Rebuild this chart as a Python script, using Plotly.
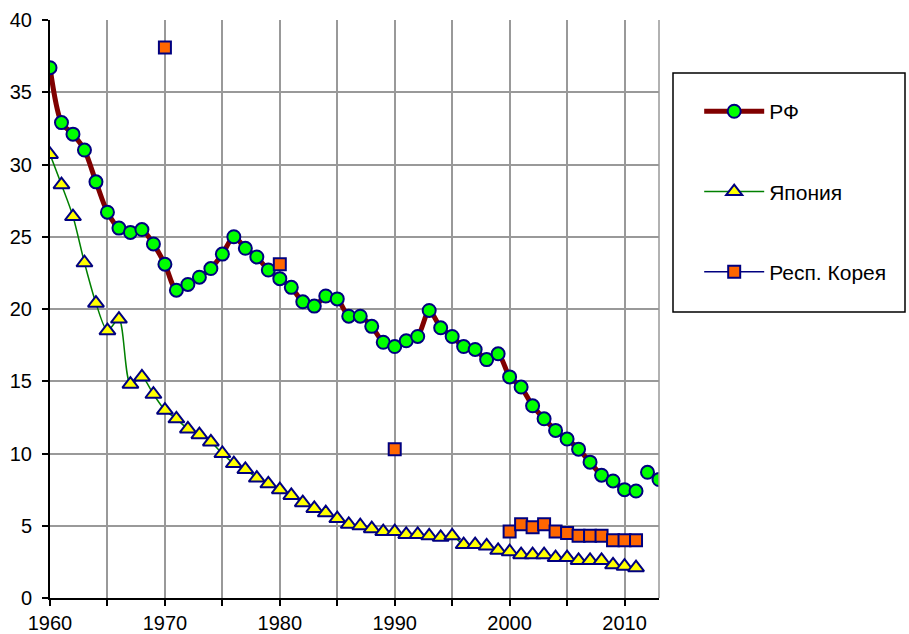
import plotly.graph_objects as go

# Russian Federation, 1960-2011 (continuous series) and 2012-2013
rf_years = list(range(1960, 2012))
rf_values = [36.7, 32.9, 32.1, 31.0, 28.8, 26.7, 25.6, 25.3, 25.5, 24.5,
             23.1, 21.3, 21.7, 22.2, 22.8, 23.8, 25.0, 24.2, 23.6, 22.7,
             22.1, 21.5, 20.5, 20.2, 20.9, 20.7, 19.5, 19.5, 18.8, 17.7,
             17.4, 17.8, 18.1, 19.9, 18.7, 18.1, 17.4, 17.2, 16.5, 16.9,
             15.3, 14.6, 13.3, 12.4, 11.6, 11.0, 10.3, 9.4, 8.5, 8.1,
             7.5, 7.4]
rf_late_years = [2012, 2013]
rf_late_values = [8.7, 8.2]

# Japan, 1960-2011
jp_years = list(range(1960, 2012))
jp_values = [30.7, 28.6, 26.4, 23.2, 20.4, 18.5, 19.3, 14.8, 15.3, 14.1,
             13.0, 12.4, 11.7, 11.3, 10.8, 10.0, 9.3, 8.9, 8.3, 7.9,
             7.5, 7.1, 6.6, 6.2, 5.9, 5.5, 5.1, 5.0, 4.8, 4.6,
             4.6, 4.4, 4.4, 4.3, 4.2, 4.3, 3.7, 3.7, 3.6, 3.3,
             3.2, 3.0, 3.0, 3.0, 2.8, 2.8, 2.6, 2.6, 2.6, 2.3,
             2.2, 2.1]

# Republic of Korea (sparse early years)
kr_years = [1970, 1980, 1990] + list(range(2000, 2012))
kr_values = [38.1, 23.1, 10.3, 4.6, 5.1, 4.9, 5.1, 4.6, 4.5, 4.3, 4.3, 4.3,
             4.0, 4.0, 4.0]

x_tick_vals = list(range(1960, 2014, 5))
x_tick_text = [str(v) if v % 10 == 0 else "" for v in x_tick_vals]


def with_gaps(xs, ys):
    """Insert None between non-consecutive years so the line breaks."""
    gx, gy = [], []
    for i, (x, y) in enumerate(zip(xs, ys)):
        if i > 0 and x - xs[i - 1] > 1:
            gx.append(None)
            gy.append(None)
        gx.append(x)
        gy.append(y)
    return gx, gy


FONT = "Liberation Sans, Arial, sans-serif"
NAVY = "#000080"
TICK_FONT = dict(family=FONT, size=20, color="black")

fig = go.Figure()

rf_style = dict(
    mode="lines+markers",
    line=dict(color="#800000", width=5, shape="spline", smoothing=0.8),
    marker=dict(symbol="circle", size=13, color="#00ff00",
                line=dict(color=NAVY, width=2)),
    legendgroup="rf",
)
fig.add_trace(go.Scatter(x=rf_years, y=rf_values, name="РФ", **rf_style))
fig.add_trace(go.Scatter(x=rf_late_years, y=rf_late_values, name="РФ",
                         showlegend=False, **rf_style))

fig.add_trace(go.Scatter(
    x=jp_years, y=jp_values, name="Япония", mode="lines+markers",
    line=dict(color="#008000", width=1.5, shape="spline", smoothing=0.8),
    marker=dict(symbol="triangle-up", size=14, color="#ffff00",
                line=dict(color=NAVY, width=2)),
    legendgroup="jp",
))

kx, ky = with_gaps(kr_years, kr_values)
fig.add_trace(go.Scatter(
    x=kx, y=ky, name="Респ. Корея", mode="lines+markers",
    line=dict(color=NAVY, width=1.5),
    marker=dict(symbol="square", size=12, color="#ff6600",
                line=dict(color=NAVY, width=2)),
    connectgaps=False,
    legendgroup="kr",
))

fig.update_layout(
    width=909, height=634,
    margin=dict(l=50, r=250, t=20, b=36),
    paper_bgcolor="white", plot_bgcolor="white",
    font=dict(family=FONT, size=20, color="black"),
    showlegend=True,
    legend=dict(
        x=1.066, y=0.877, xanchor="left", yanchor="top",
        bgcolor="rgba(0,0,0,0)", borderwidth=0,
        font=dict(family=FONT, size=21, color="black"),
        tracegroupgap=50, itemwidth=60,
    ),
    xaxis=dict(
        range=[1960, 2013], tickmode="array",
        tickvals=x_tick_vals, ticktext=x_tick_text, tickfont=TICK_FONT,
        showgrid=True, gridcolor="#999999", gridwidth=1.5,
        showline=True, linecolor="black", linewidth=2,
        ticks="outside", ticklen=6, tickwidth=2, tickcolor="black",
        zeroline=False, ticklabelstandoff=0, automargin=False,
    ),
    yaxis=dict(
        range=[0, 40], dtick=5, tickfont=TICK_FONT,
        showgrid=True, gridcolor="#999999", gridwidth=1.5,
        showline=True, linecolor="black", linewidth=2,
        ticks="outside", ticklen=6, tickwidth=2, tickcolor="black",
        zeroline=False, ticklabelstandoff=6, automargin=False,
    ),
    shapes=[
        # right border of the plotting area
        dict(type="line", xref="paper", yref="paper", x0=1, x1=1, y0=0, y1=1,
             line=dict(color="#999999", width=1.5)),
        # legend frame
        dict(type="rect", xref="paper", yref="paper",
             x0=(673 - 50) / 609, x1=(905 - 50) / 609,
             y0=(598 - 312) / 578, y1=(598 - 73) / 578,
             line=dict(color="black", width=1.5), fillcolor="rgba(0,0,0,0)"),
    ],
)

fig.write_html("out.html")
